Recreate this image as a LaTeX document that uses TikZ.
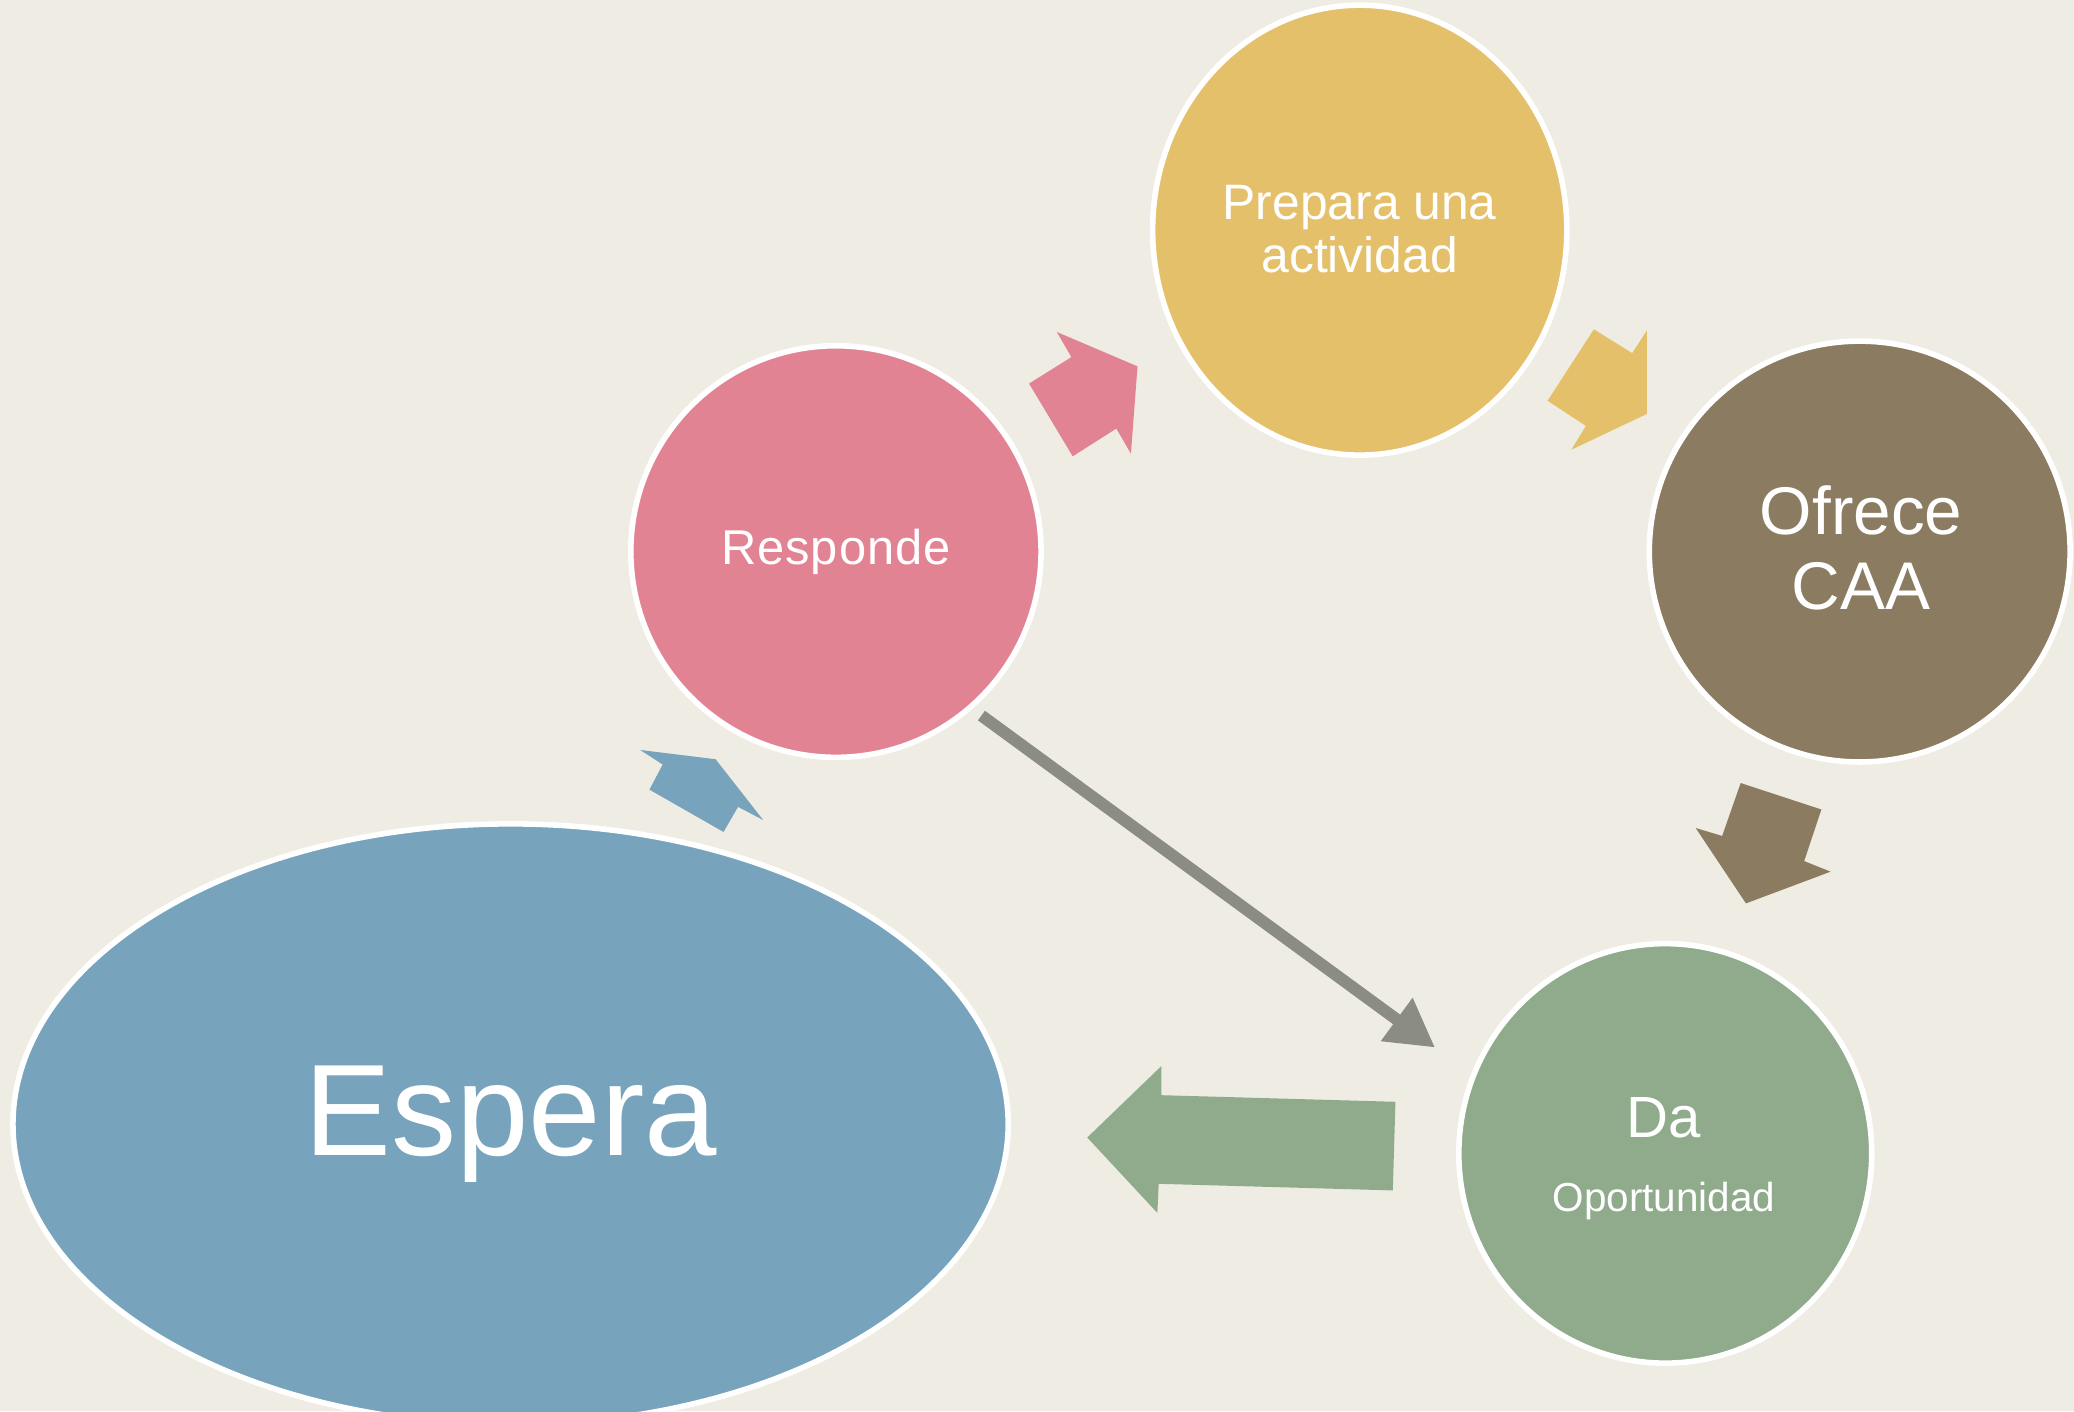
\documentclass[tikz,border=0pt]{standalone}
\usepackage{fontspec}
\setmainfont{Liberation Sans}
\newfontfamily\espaciado[LetterSpace=2]{Liberation Sans}
\usetikzlibrary{shapes.geometric, arrows.meta}

\definecolor{fondo}{RGB}{239,236,227}
\definecolor{rosa}{RGB}{226,131,148}
\definecolor{amarillo}{RGB}{229,192,107}
\definecolor{marron}{RGB}{139,123,97}
\definecolor{verde}{RGB}{143,171,140}
\definecolor{azul}{RGB}{119,163,188}
\definecolor{gris}{RGB}{139,140,132}

\begin{document}
\begin{tikzpicture}[x=0.01cm, y=-0.01cm,
    burbuja/.style={ellipse, draw=white, line width=1.2pt, text=white, align=center, inner sep=0pt},
    texto/.style={text=white, anchor=base}]
    \useasboundingbox (0,0) rectangle (1568,1067);
    \clip (0,0) rectangle (1568,1067);
    \fill[fondo] (0,0) rectangle (1568,1067);

    % Burbujas
    \node[burbuja, fill=rosa, minimum width=3.1cm, minimum height=3.11cm,
          font=\espaciado\fontsize{10.5}{12}\selectfont] (resp) at (632,417) {Responde};
    \node[burbuja, fill=amarillo, minimum width=3.13cm, minimum height=3.4cm] (prep) at (1028,174) {};
    \node[burbuja, fill=marron, minimum width=3.18cm, minimum height=3.18cm] (caa) at (1406,417) {};
    \node[burbuja, fill=verde, minimum width=3.12cm, minimum height=3.17cm] (da) at (1259,872) {};
    \node[burbuja, fill=azul, minimum width=7.52cm, minimum height=4.54cm,
          font=\fontsize{28}{32}\selectfont] (esp) at (386,850) {Espera};

    % Textos
    \node[texto, font=\fontsize{10.7}{12}\selectfont] (prep1) at (1028,166) {Prepara una};
    \node[texto, font=\fontsize{10.7}{12}\selectfont] (prep2) at (1028,206) {actividad};
    \node[texto, font=\fontsize{14.5}{16}\selectfont] (caa1) at (1407,404) {Ofrece};
    \node[texto, font=\fontsize{14.5}{16}\selectfont] (caa2) at (1407,461) {CAA};
    \node[texto, font=\fontsize{12.5}{14}\selectfont] (da1) at (1258,860) {Da};
    \node[texto, font=\fontsize{8.7}{10}\selectfont] (da2) at (1258,916) {Oportunidad};

    % Flechas
    \fill[rosa] (778,290) -- (810,270) -- (799,251) -- (860,277) -- (855,343) -- (844,324) -- (811,345) -- cycle;
    \fill[amarillo] (1170,303) -- (1205,249) -- (1234,267) -- (1245,250) -- (1245,313) -- (1188,340) -- (1199,322) -- cycle;
    \fill[marron] (1302,632) -- (1316,592) -- (1377,612) -- (1364,651) -- (1384,659) -- (1320,683) -- (1282,626) -- cycle;
    \fill[verde] (1055,833) -- (1053,900) -- (876,895) -- (875,917) -- (822,860) -- (878,806) -- (878,828) -- cycle;
    \fill[azul] (491,597) -- (501,578) -- (484,567) -- (541,574) -- (577,620) -- (558,610) -- (547,629) -- cycle;

    \coordinate (g1) at (742,541);
    \coordinate (g2) at (1085,792);
    \draw[gris, line width=0.09cm, -{Triangle[length=0.36cm, width=0.38cm]}] (g1) -- (g2);

\end{tikzpicture}
\end{document}
